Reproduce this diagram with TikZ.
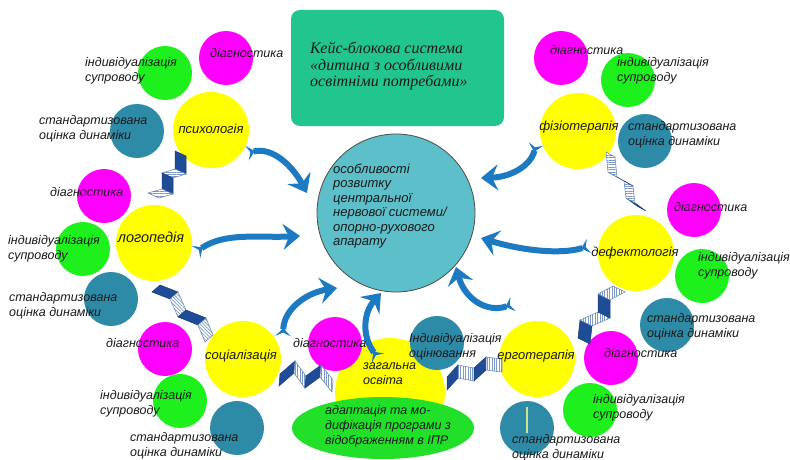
\documentclass[tikz,border=0pt]{standalone}
\usepackage{fontspec}
\setmainfont{Liberation Sans}
\newfontfamily\titlefont{Liberation Serif}
\usetikzlibrary{arrows.meta,calc,patterns.meta,shapes.geometric}

\definecolor{ttl}{HTML}{22C58E}
\definecolor{ctr}{HTML}{5CBFCA}
\definecolor{yel}{HTML}{FFFF00}
\definecolor{mag}{HTML}{FF00FF}
\definecolor{grn}{HTML}{1EF01E}
\definecolor{tea}{HTML}{2E8BA8}
\definecolor{ell}{HTML}{22E02A}
\definecolor{arr}{HTML}{1B7AC2}
\definecolor{rdk}{HTML}{1F4C96}
\definecolor{rst}{HTML}{7E9BC6}
\definecolor{txt}{HTML}{1A1A1A}
\definecolor{thinln}{HTML}{C8E496}

% ribbon: 5 points, width vector, stripe angle
\newcommand\ribbon[7]{%
  \filldraw[ribdark] (#1) -- (#2) -- ($(#2)+(#6)$) -- ($(#1)+(#6)$) -- cycle;
  \filldraw[ribstripe, pattern={Lines[angle=#7,distance=2.4pt,line width=0.7pt]}] (#2) -- (#3) -- ($(#3)+(#6)$) -- ($(#2)+(#6)$) -- cycle;
  \filldraw[ribdark] (#3) -- (#4) -- ($(#4)+(#6)$) -- ($(#3)+(#6)$) -- cycle;
  \filldraw[ribstripe, pattern={Lines[angle=#7,distance=2.4pt,line width=0.7pt]}] (#4) -- (#5) -- ($(#5)+(#6)$) -- ($(#4)+(#6)$) -- cycle;
}

\begin{document}
\begin{tikzpicture}[x=1pt,y=-1pt,
  lbl/.style={font=\fontsize{12.5}{15}\selectfont\itshape, text=txt, anchor=west, align=left, inner sep=0pt},
  mainlbl/.style={font=\fontsize{13}{15}\selectfont\itshape, text=txt, inner sep=0pt},
  ybig/.style={circle, fill=yel, draw=none, minimum size=76pt, inner sep=0pt},
  smag/.style={circle, fill=mag, draw=none, minimum size=54pt, inner sep=0pt},
  sgrn/.style={circle, fill=grn, draw=none, minimum size=54pt, inner sep=0pt},
  stea/.style={circle, fill=tea, draw=none, minimum size=54pt, inner sep=0pt},
  ribdark/.style={fill=rdk, draw=rdk!80!black, line width=0.5pt},
  ribstripe/.style={preaction={fill=white}, pattern color=rst, draw=rdk!70, line width=0.5pt},
  barrow/.style={draw=arr, line width=6pt,
    {Stealth[reversed,length=8pt,width=15pt,inset=3.5pt]}-{Stealth[length=17pt,width=26pt,inset=6pt]}}
]
\clip (0,0) rectangle (790,460);
\fill[white] (0,0) rectangle (790,460);

% title
\node[fill=ttl, rounded corners=9pt, minimum width=213pt, minimum height=116pt, inner sep=0pt] (title) at (397.5,68) {};
\node[anchor=west, align=left, inner sep=0pt, text=txt, font=\titlefont\itshape\fontsize{16}{16.5}\selectfont] (titletext) at (310,66)
  {Кейс-блокова система\\«дитина з особливими\\освітніми потребами»};

% centre
\node[circle, fill=ctr, draw=black!70, line width=0.8pt, minimum size=158pt, inner sep=0pt] (centre) at (396,213) {};

% top-left group
\node[ybig] (psy) at (211,130) {};
\node[smag] (psyd) at (226,58) {};
\node[sgrn] (psyi) at (165,73) {};
\node[stea] (psys) at (137,131) {};
% left group
\node[ybig] (log) at (154,243) {};
\node[smag] (logd) at (104,196) {};
\node[sgrn] (logi) at (83,249) {};
\node[stea] (logs) at (111,299) {};
% bottom-left group
\node[ybig] (soc) at (243,359) {};
\node[smag] (socd) at (165,349) {};
\node[sgrn] (soci) at (180,401) {};
\node[stea] (socs) at (237,428) {};
% bottom middle
\node[circle, fill=yel, minimum size=110pt, inner sep=0pt] (gen) at (390,393) {};
\node[smag] (gend) at (335,344) {};
\node[stea] (geno) at (437,343) {};
\node[ellipse, fill=ell, minimum width=182pt, minimum height=62pt, inner sep=0pt] (adapt) at (383,428) {};
% bottom right
\node[ybig] (erg) at (537,359) {};
\node[smag] (ergd) at (611,358) {};
\node[sgrn] (ergi) at (590,410) {};
\node[stea] (ergs) at (527,428) {};
\draw[draw=thinln, line width=1.2pt] (ergs.center) ++(0,-21) coordinate (tl1) -- ++(0,26) coordinate (tl2);
% right group
\node[ybig] (def) at (636,253) {};
\node[smag] (defd) at (694,210) {};
\node[sgrn] (defi) at (702,276) {};
\node[stea] (defs) at (667,325) {};
% top right
\node[ybig] (fiz) at (578,131) {};
\node[smag] (fizd) at (561,58) {};
\node[sgrn] (fizi) at (628,80) {};
\node[stea] (fizs) at (645,141) {};

% ribbons
\ribbon{186,156}{186,174}{173,178}{173,194}{159,198}{-11,-5}{0}
\ribbon{152,292}{170,299}{178,317}{198,325}{205,342}{8,-7}{135}
\ribbon{279,386}{294,373}{305,388}{320,377}{332,392}{1,-12}{90}
\ribbon{447,390}{458,378}{474,381}{486,370}{502,372}{0,-13}{90}
\ribbon{590,344}{592,326}{610,318}{610,300}{625,292}{-12,-6}{90}
\ribbon{646,211}{635,203}{633,186}{617,177}{615,157}{-9,-5}{0}

% arrows
\draw[barrow] (247,153) .. controls (272,147) and (292,165) .. (307,193);
\draw[barrow] (196,252) .. controls (225,232) and (260,238) .. (300,236);
\draw[barrow] (283,336) .. controls (284,310) and (305,293) .. (337,288);
\draw[barrow] (378,358) .. controls (361,335) and (364,312) .. (381,293);
\draw[barrow] (513,304) .. controls (488,313) and (465,300) .. (456,267);
\draw[barrow] (589,246) .. controls (560,255) and (520,250) .. (481,238);
\draw[barrow] (536,144) .. controls (531,165) and (512,177) .. (481,178);

% centre text
\node[lbl, font=\fontsize{13}{14.5}\selectfont\itshape] (ctext) at (333,206)
  {особливості\\розвитку\\центральної\\нервової системи/\\опорно-рухового\\апарату};

% labels top-left
\node[lbl] (l1) at (210,53) {діагностика};
\node[lbl] (l2) at (85,71) {індивідуалізація\\супроводу};
\node[lbl] (l3) at (39,128.5) {стандартизована\\оцінка динаміки};
\node[mainlbl] (l4) at (211,129) {психологія};
% left
\node[lbl] (l5) at (50,192) {діагностика};
\node[lbl] (l6) at (8,249) {індивідуалізація\\супроводу};
\node[lbl] (l7) at (9,306) {стандартизована\\оцінка динаміки};
\node[mainlbl, font=\fontsize{14.5}{16}\selectfont\itshape] (l8) at (151,237) {логопедія};
% bottom-left
\node[lbl] (l9) at (106,343) {діагностика};
\node[lbl] (l10) at (100,403.5) {індивідуалізація\\супроводу};
\node[lbl] (l11) at (130,445.5) {стандартизована\\оцінка динаміки};
\node[mainlbl] (l12) at (241,356) {соціалізація};
% bottom middle
\node[lbl] (l13) at (293,343) {діагностика};
\node[lbl] (l14) at (363,374) {загальна\\освіта};
\node[lbl] (l15) at (409,346.5) {Індивідуалізація\\оцінювання};
\node[lbl] (l16) at (325,426.5) {адаптація та мо-\\дифікація програми з\\відображенням в ІПР};
% bottom right
\node[mainlbl] (l17) at (536,356) {ерготерапія};
\node[lbl] (l18) at (604,353) {діагностика};
\node[lbl] (l19) at (593,408) {індивідуалізація\\супроводу};
\node[lbl] (l20) at (512,447.5) {стандартизована\\оцінка динаміки};
% right
\node[lbl] (l21) at (674,207) {діагностика};
\node[mainlbl] (l22) at (635,253) {дефектологія};
\node[lbl] (l23) at (698,265.5) {індивідуалізація\\супроводу};
\node[lbl] (l24) at (647,327) {стандартизована\\оцінка динаміки};
% top right
\node[lbl] (l25) at (550,50) {діагностика};
\node[lbl] (l26) at (617,71) {індивідуалізація\\супроводу};
\node[mainlbl] (l27) at (579,127) {фізіотерапія};
\node[lbl] (l28) at (628,134.5) {стандартизована\\оцінка динаміки};
\end{tikzpicture}
\end{document}
